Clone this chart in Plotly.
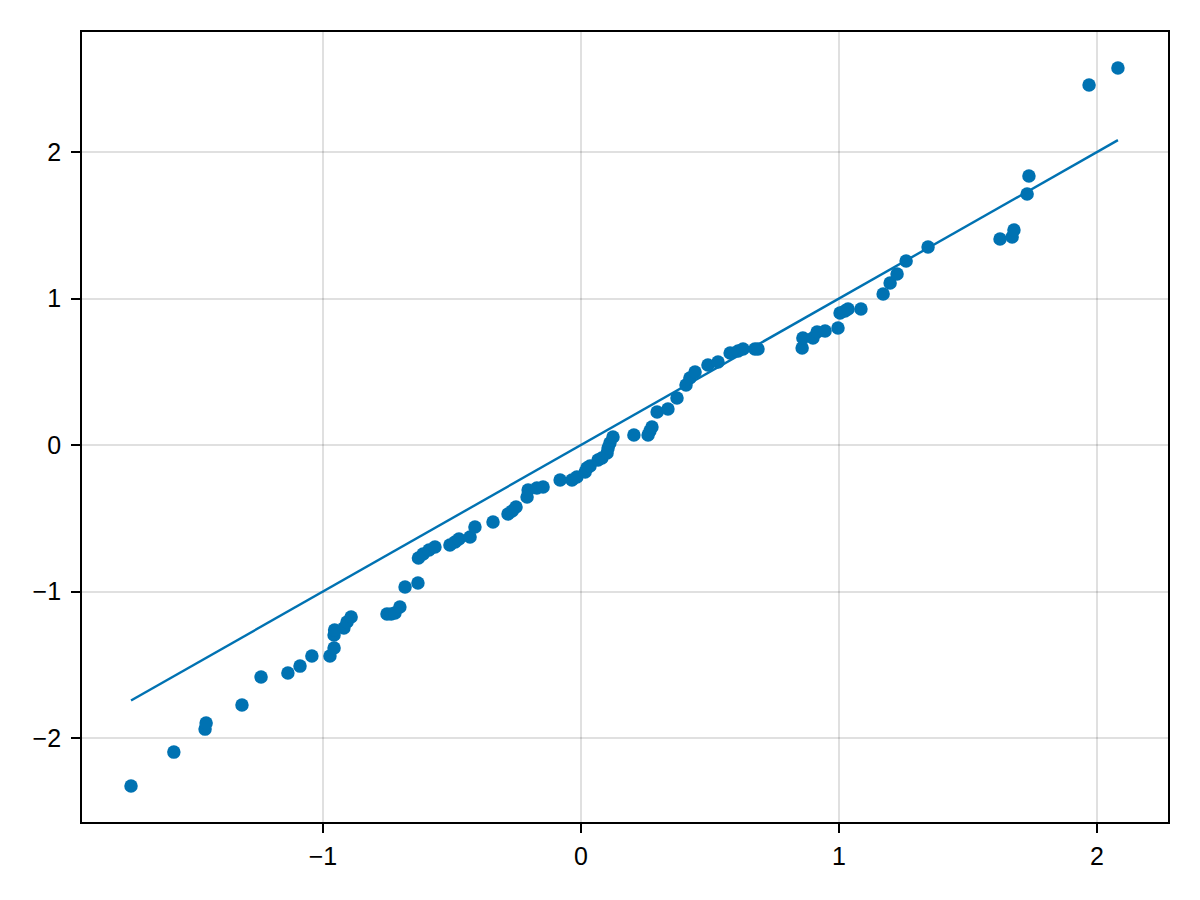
import plotly.graph_objects as go

# Sample quantiles (x) vs. sample quantiles (y)
qx = [-1.744, -1.578, -1.457, -1.453, -1.314, -1.240, -1.136, -1.089, -1.043, -0.973,
      -0.957, -0.957, -0.955, -0.919, -0.907, -0.891, -0.752, -0.736, -0.721, -0.702,
      -0.682, -0.632, -0.630, -0.612, -0.589, -0.566, -0.508, -0.488, -0.473, -0.430,
      -0.411, -0.341, -0.283, -0.267, -0.252, -0.209, -0.205, -0.171, -0.147, -0.081,
      -0.035, -0.016, 0.016, 0.023, 0.035, 0.066, 0.081, 0.101, 0.105, 0.112,
      0.124, 0.205, 0.260, 0.267, 0.275, 0.295, 0.337, 0.372, 0.407, 0.422,
      0.442, 0.492, 0.531, 0.578, 0.609, 0.628, 0.674, 0.686, 0.857, 0.860,
      0.899, 0.915, 0.946, 0.996, 1.004, 1.023, 1.035, 1.085, 1.171, 1.198,
      1.225, 1.260, 1.345, 1.624, 1.671, 1.678, 1.729, 1.736, 1.969, 2.081]
qy = [-2.328, -2.096, -1.939, -1.898, -1.775, -1.584, -1.556, -1.509, -1.440, -1.440,
      -1.386, -1.297, -1.263, -1.249, -1.208, -1.174, -1.154, -1.154, -1.147, -1.106,
      -0.969, -0.942, -0.771, -0.744, -0.717, -0.696, -0.683, -0.662, -0.642, -0.628,
      -0.560, -0.526, -0.471, -0.451, -0.423, -0.355, -0.307, -0.294, -0.287, -0.239,
      -0.239, -0.218, -0.184, -0.157, -0.143, -0.102, -0.089, -0.055, -0.020, 0.014,
      0.055, 0.068, 0.068, 0.096, 0.123, 0.225, 0.246, 0.321, 0.410, 0.457,
      0.498, 0.546, 0.567, 0.628, 0.642, 0.655, 0.655, 0.655, 0.662, 0.730,
      0.730, 0.771, 0.778, 0.799, 0.901, 0.915, 0.928, 0.928, 1.031, 1.106,
      1.167, 1.256, 1.352, 1.406, 1.420, 1.468, 1.713, 1.836, 2.457, 2.573]

x_ticks = [-1, 0, 1, 2]
y_ticks = [-2, -1, 0, 1, 2]

color = "#0072B2"
line_x = [min(qx), max(qx)]

fig = go.Figure()
fig.add_trace(go.Scatter(x=qx, y=qy, mode="markers",
                         marker=dict(color=color, size=13.5, line=dict(width=0)),
                         showlegend=False))
fig.add_trace(go.Scatter(x=line_x, y=line_x, mode="lines",
                         line=dict(color=color, width=2.4), showlegend=False))

axis_common = dict(showline=True, linecolor="black", linewidth=1.8, mirror=True,
                   showgrid=True, gridcolor="rgba(0,0,0,0.12)", gridwidth=1.5,
                   zeroline=False, ticks="outside", ticklen=9, tickwidth=1.8,
                   tickcolor="black",
                   tickfont=dict(family="Liberation Sans, Arial, sans-serif", size=25, color="black"))

fig.update_xaxes(range=[-1.934, 2.275], tickvals=x_ticks, ticklabelstandoff=2, **axis_common)
fig.update_yaxes(range=[-2.573, 2.819], tickvals=y_ticks, ticklabelstandoff=5, **axis_common)

# page body has an 8px offset; compensate so the plot frame sits at 82..1168 x 32..822
fig.update_layout(width=1184, height=884, plot_bgcolor="white", paper_bgcolor="white",
                  margin=dict(l=74, r=24, t=24, b=70))

fig.write_html("out.html")
